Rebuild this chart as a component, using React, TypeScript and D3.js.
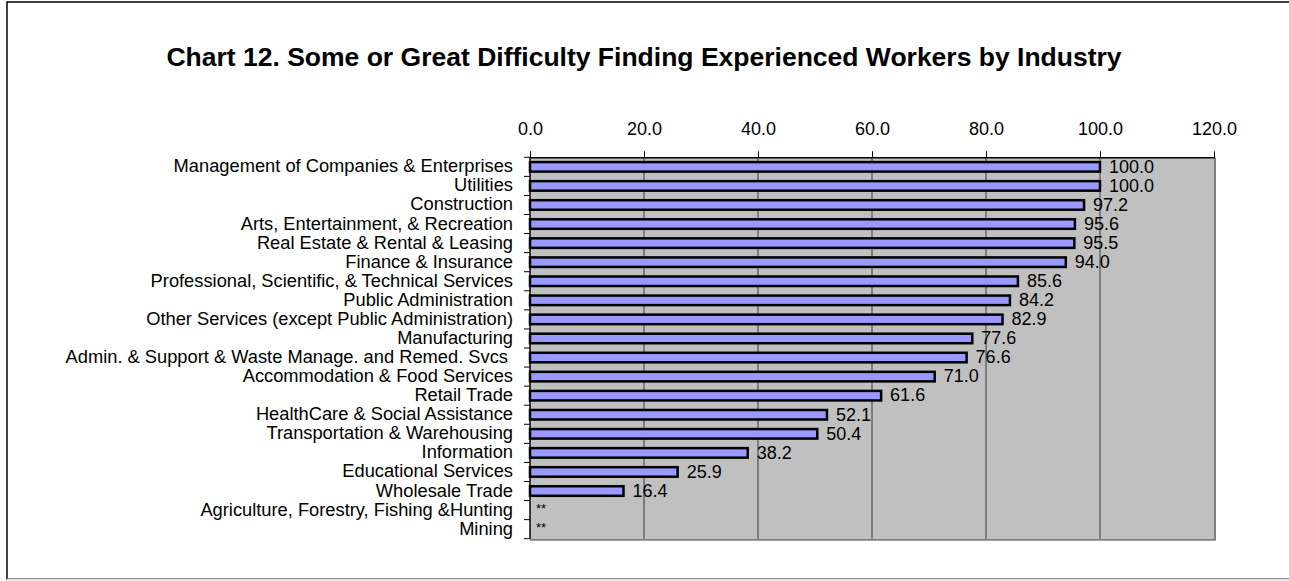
import React, { useEffect, useRef } from "react"
import * as d3 from "d3"

const categories = [
  "Management of Companies & Enterprises",
  "Utilities",
  "Construction",
  "Arts, Entertainment, & Recreation",
  "Real Estate & Rental & Leasing",
  "Finance & Insurance",
  "Professional, Scientific, & Technical Services",
  "Public Administration",
  "Other Services (except Public Administration)",
  "Manufacturing",
  "Admin. & Support & Waste Manage. and Remed. Svcs ",
  "Accommodation & Food Services",
  "Retail Trade",
  "HealthCare & Social Assistance",
  "Transportation & Warehousing",
  "Information",
  "Educational Services",
  "Wholesale Trade",
  "Agriculture, Forestry, Fishing &Hunting",
  "Mining",
]

// null = suppressed (shown as **)
const values: (number | null)[] = [
  100.0, 100.0, 97.2, 95.6, 95.5, 94.0, 85.6, 84.2, 82.9, 77.6,
  76.6, 71.0, 61.6, 52.1, 50.4, 38.2, 25.9, 16.4, null, null,
]

const xTicks = [0, 20, 40, 60, 80, 100, 120]

const title = "Chart 12. Some or Great Difficulty Finding Experienced Workers by Industry"

const App = () => {
  const ref = useRef<SVGSVGElement>(null)

  useEffect(() => {
    const svg = d3.select(ref.current)
    svg.selectAll("*").remove()
    const font = "'Liberation Sans', Arial, sans-serif"

    // chart area border
    svg.append("rect")
      .attr("x", 7)
      .attr("y", 2)
      .attr("width", 1400)
      .attr("height", 577)
      .attr("fill", "white")
      .attr("stroke", "black")
      .attr("stroke-width", 1.5)
    svg.append("line")
      .attr("x1", 7).attr("x2", 1289)
      .attr("y1", 579.5).attr("y2", 579.5)
      .attr("stroke", "#dddddd")
      .attr("stroke-width", 2)

    svg.append("text")
      .attr("x", 644)
      .attr("y", 66)
      .attr("text-anchor", "middle")
      .attr("font-family", font)
      .attr("font-weight", "bold")
      .attr("font-size", 26.5)
      .text(title)

    const left = 530
    const right = 1214
    const top = 157.3
    const bottom = 538.7

    const x = d3.scaleLinear().domain([0, 120]).range([left, right])
    const y = d3.scaleBand().domain(categories).range([top, bottom]).paddingInner(0.5).paddingOuter(0.25)
    const band = (bottom - top) / categories.length

    // plot area
    svg.append("rect")
      .attr("x", left)
      .attr("y", top)
      .attr("width", right - left)
      .attr("height", bottom - top)
      .attr("fill", "#c0c0c0")
    svg.append("path")
      .attr("d", `M${right + 1},${top}V${bottom + 1}H${left}`)
      .attr("fill", "none")
      .attr("stroke", "#808080")
      .attr("stroke-width", 2)

    // gridlines
    svg.append("g")
      .selectAll("line")
      .data(xTicks.slice(1, -1))
      .enter()
      .append("line")
      .attr("x1", d => x(d))
      .attr("x2", d => x(d))
      .attr("y1", top)
      .attr("y2", bottom)
      .attr("stroke", "#3a3a3a")
      .attr("stroke-width", 1)

    // top axis
    const xAxis = svg.append("g")
      .attr("transform", `translate(0,${top})`)
      .call(d3.axisTop(x).tickValues(xTicks).tickFormat(d3.format(".1f")).tickSize(6).tickSizeOuter(0))
    xAxis.select(".domain").attr("stroke", "#000").attr("stroke-width", 1.5)
    xAxis.selectAll(".tick line").attr("stroke", "#000")
    xAxis.selectAll("text")
      .attr("font-family", font)
      .attr("font-size", 18)
      .attr("fill", "#000")
      .attr("y", -22)
      .attr("dy", "0")

    // left axis
    svg.append("line")
      .attr("x1", left).attr("x2", left)
      .attr("y1", top).attr("y2", bottom)
      .attr("stroke", "#000")
      .attr("stroke-width", 1.5)
    svg.append("g")
      .selectAll("line")
      .data(d3.range(categories.length + 1))
      .enter()
      .append("line")
      .attr("x1", left - 6)
      .attr("x2", left)
      .attr("y1", i => top + i * band)
      .attr("y2", i => top + i * band)
      .attr("stroke", "#000")

    svg.append("g")
      .selectAll("text")
      .data(categories)
      .enter()
      .append("text")
      .attr("x", 513)
      .attr("y", d => y(d)! + y.bandwidth() / 2)
      .attr("dy", "0.3em")
      .attr("text-anchor", "end")
      .attr("font-family", font)
      .attr("font-size", 18.3)
      .style("white-space", "pre")
      .text(d => d)

    const rows = categories.map((c, i) => ({ c, v: values[i] }))

    // bars
    svg.append("g")
      .selectAll("rect")
      .data(rows.filter(r => r.v !== null))
      .enter()
      .append("rect")
      .attr("x", x(0))
      .attr("y", d => y(d.c)!)
      .attr("width", d => x(d.v as number) - x(0))
      .attr("height", y.bandwidth())
      .attr("fill", "#9999ff")
      .attr("stroke", "#000")
      .attr("stroke-width", 2.5)

    // value labels
    svg.append("g")
      .selectAll("text")
      .data(rows)
      .enter()
      .append("text")
      .attr("x", d => (d.v === null ? x(0) + 6 : x(d.v) + 9))
      .attr("y", d => y(d.c)! + y.bandwidth() / 2)
      .attr("dy", d => (d.v === null ? "0.2em" : "0.32em"))
      .attr("font-family", font)
      .attr("font-size", d => (d.v === null ? 13 : 18))
      .text(d => (d.v === null ? "**" : d3.format(".1f")(d.v)))
  }, [])

  return (
    <svg
      ref={ref}
      width={1289}
      height={581}
      style={{ position: "absolute", left: 0, top: 0 }}
    />
  )
}

export default App
